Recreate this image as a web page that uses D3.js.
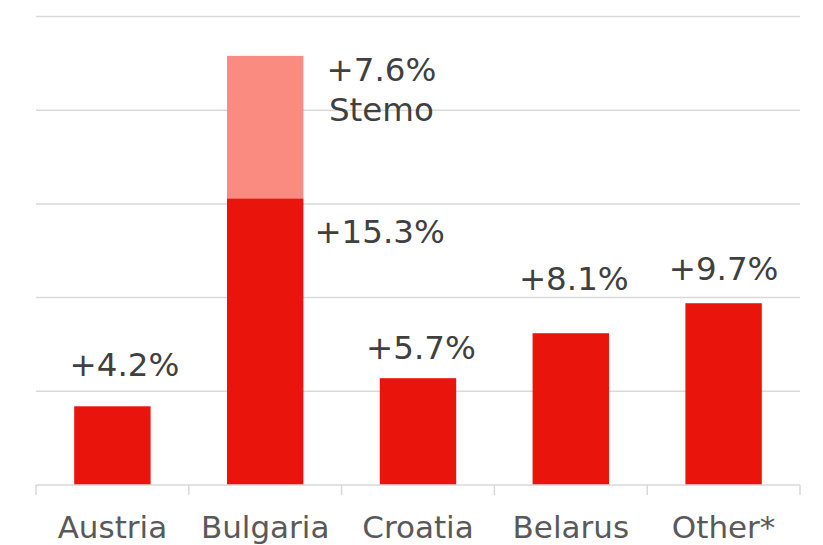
<!DOCTYPE html>
<html>
<head>
<meta charset="utf-8">
<script src="https://cdn.jsdelivr.net/npm/d3@7"></script>
<style>
  body { margin: 0; background: #fff; }
  text { font-family: "DejaVu Sans", Verdana, sans-serif; }
</style>
</head>
<body>
<div id="chart"></div>
<script>
// Data (% growth)
const countries = ["Austria", "Bulgaria", "Croatia", "Belarus", "Other*"];
const organic = [4.2, 15.3, 5.7, 8.1, 9.7];
const stemo = [0, 7.6, 0, 0, 0];
const yTicks = [0, 5, 10, 15, 20, 25];

// where the value labels sit in the original: gap above bar top, sideways nudge
const labelGap = [30, 0, 19, 43, 23];
const labelShift = [12, 0, 3, 3, 0];

const width = 823, height = 545;
const margin = {top: 16.5, right: 23, bottom: 60, left: 36};

const svg = d3.select("#chart").append("svg")
    .attr("width", width)
    .attr("height", height);

const x = d3.scaleBand()
    .domain(countries)
    .range([margin.left, width - margin.right])
    .paddingInner(0.5)
    .paddingOuter(0.25);

const y = d3.scaleLinear()
    .domain([0, 25])
    .range([height - margin.bottom, margin.top]);

const base = y(0);

// Gridlines
svg.append("g")
  .selectAll("line")
  .data(yTicks.slice(1))
  .enter().append("line")
    .attr("x1", margin.left).attr("x2", width - margin.right)
    .attr("y1", d => y(d)).attr("y2", d => y(d))
    .attr("stroke", "#d9d9d9")
    .attr("stroke-width", 1.5);

// Stacked bars
const rows = countries.map((c, i) => ({country: c, organic: organic[i], stemo: stemo[i]}));

svg.append("g")
  .selectAll("rect")
  .data(rows)
  .enter().append("rect")
    .attr("x", d => x(d.country))
    .attr("y", d => y(d.organic))
    .attr("width", x.bandwidth())
    .attr("height", d => base - y(d.organic))
    .attr("fill", "#e9150d");

svg.append("g")
  .selectAll("rect")
  .data(rows.filter(d => d.stemo > 0))
  .enter().append("rect")
    .attr("x", d => x(d.country))
    .attr("y", d => y(d.organic + d.stemo))
    .attr("width", x.bandwidth())
    .attr("height", d => y(d.organic) - y(d.organic + d.stemo))
    .attr("fill", "#f98b80");

// Category axis
const step = x.step();
const boundaries = d3.range(countries.length + 1).map(i => margin.left + i * step);

svg.append("line")
    .attr("x1", margin.left).attr("x2", width - margin.right)
    .attr("y1", base).attr("y2", base)
    .attr("stroke", "#d9d9d9")
    .attr("stroke-width", 1.5);

svg.append("g")
  .selectAll("line")
  .data(boundaries)
  .enter().append("line")
    .attr("x1", d => d).attr("x2", d => d)
    .attr("y1", base).attr("y2", base + 10)
    .attr("stroke", "#d9d9d9")
    .attr("stroke-width", 1.5);

svg.append("g")
  .selectAll("text")
  .data(countries)
  .enter().append("text")
    .attr("x", d => x(d) + x.bandwidth() / 2)
    .attr("y", base + 53)
    .attr("text-anchor", "middle")
    .attr("font-size", 31)
    .attr("fill", "#595959")
    .text(d => d);

// Value labels
const fmt = v => "+" + v.toFixed(1) + "%";

svg.append("g")
  .selectAll("text")
  .data(rows.filter(d => d.stemo === 0))
  .enter().append("text")
    .attr("x", d => x(d.country) + x.bandwidth() / 2 + labelShift[countries.indexOf(d.country)])
    .attr("y", d => y(d.organic) - labelGap[countries.indexOf(d.country)])
    .attr("text-anchor", "middle")
    .attr("font-size", 32.5)
    .attr("fill", "#404040")
    .text(d => fmt(d.organic));

// Bulgaria: labels to the right of the bar
rows.filter(d => d.stemo > 0).forEach(d => {
  const right = x(d.country) + x.bandwidth();
  svg.append("text")
      .attr("x", right + 11)
      .attr("y", y(d.organic) + 45)
      .attr("font-size", 32.5)
      .attr("fill", "#404040")
      .text(fmt(d.organic));

  const t = svg.append("text")
      .attr("x", right + 78)
      .attr("y", y(d.organic + d.stemo) + 25)
      .attr("text-anchor", "middle")
      .attr("font-size", 32.5)
      .attr("fill", "#404040");
  t.append("tspan").attr("x", right + 78).text(fmt(d.stemo));
  t.append("tspan").attr("x", right + 78).attr("dy", 40).text("Stemo");
});
</script>
</body>
</html>
